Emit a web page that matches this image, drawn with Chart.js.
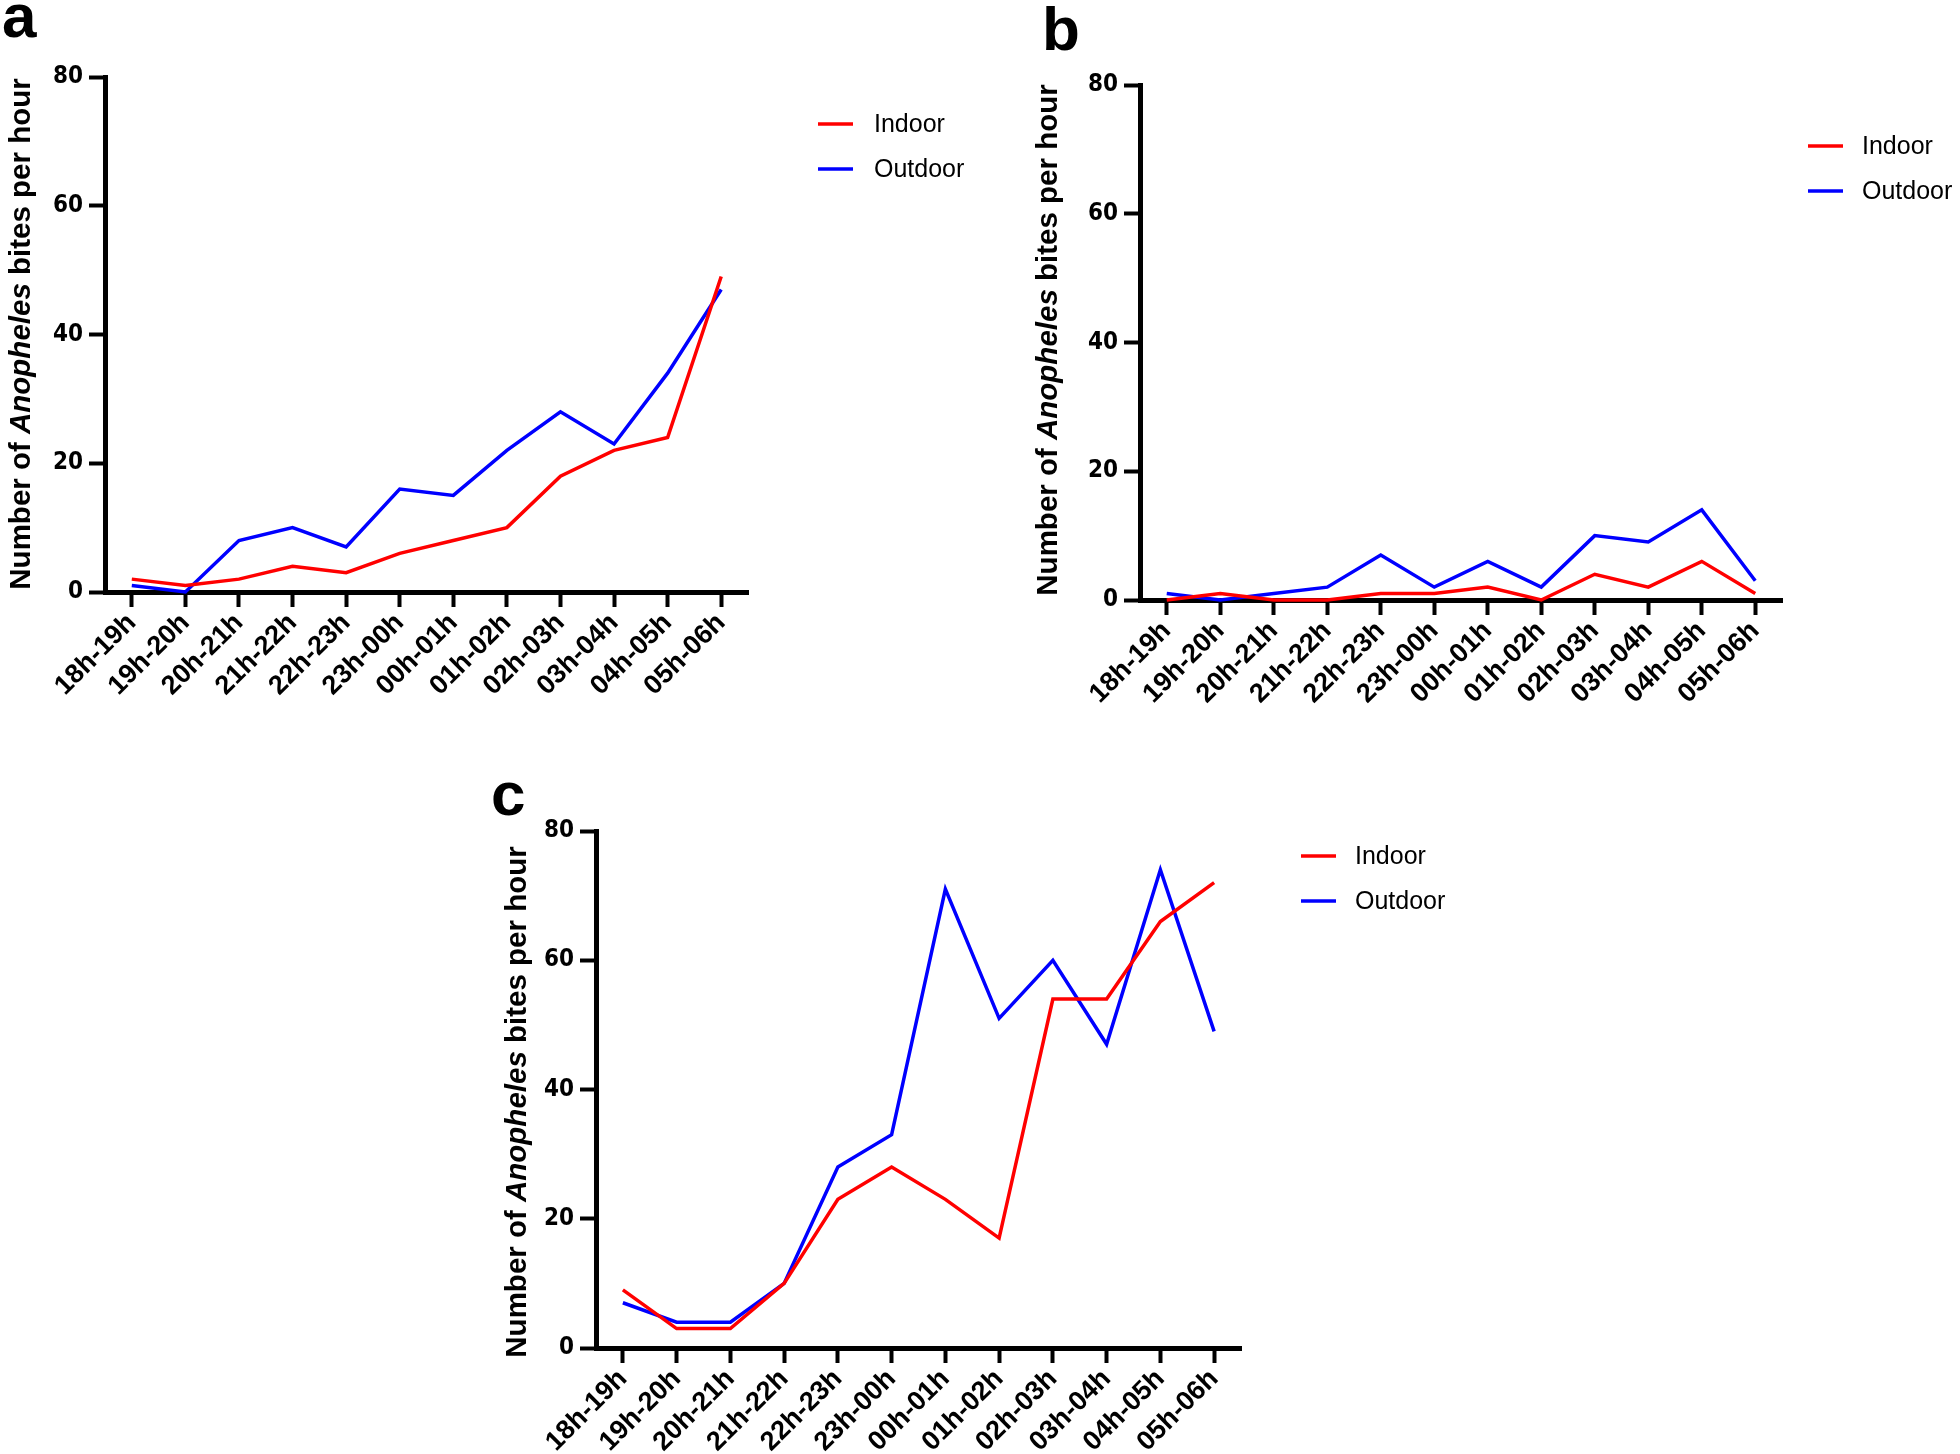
<!DOCTYPE html>
<html>
<head>
<meta charset="utf-8">
<script src="https://cdn.jsdelivr.net/npm/chart.js@4.4.0/dist/chart.umd.min.js"></script>
<style>
body { margin: 0; background: #fff; }
#page { position: relative; width: 1960px; height: 1454px; background: #fff; }
canvas { position: absolute; }
</style>
</head>
<body>
<div id="page">
<canvas id="chartA" width="980" height="720" style="left:0px;top:0px"></canvas>
<canvas id="chartB" width="980" height="720" style="left:980px;top:0px"></canvas>
<canvas id="chartC" width="1000" height="694" style="left:480px;top:760px"></canvas>
</div>
<script>
// hourly catch periods
var hours = ["18h-19h", "19h-20h", "20h-21h", "21h-22h", "22h-23h", "23h-00h",
             "00h-01h", "01h-02h", "02h-03h", "03h-04h", "04h-05h", "05h-06h"];
var yTicks = [0, 20, 40, 60, 80];
var seriesNames = ["Indoor", "Outdoor"];

// panel a
var indoorA  = [2, 1, 2, 4, 3, 6, 8, 10, 18, 22, 24, 49];
var outdoorA = [1, 0, 8, 10, 7, 16, 15, 22, 28, 23, 34, 47];
// panel b
var indoorB  = [0, 1, 0, 0, 1, 1, 2, 0, 4, 2, 6, 1];
var outdoorB = [1, 0, 1, 2, 7, 2, 6, 2, 10, 9, 14, 3];
// panel c
var indoorC  = [9, 3, 3, 10, 23, 28, 23, 17, 54, 54, 66, 72];
var outdoorC = [7, 4, 4, 10, 28, 33, 71, 51, 60, 47, 74, 49];

var seriesColors = ["#ff0000", "#0000ff"];

function makeDecor(g) {
    return {
        id: 'decor' + g.letter,
        afterDraw: function(chart) {
            var ctx = chart.ctx;
            ctx.save();
            ctx.fillStyle = '#000';

            // panel letter
            ctx.font = 'bold 62px "Liberation Sans", Arial, sans-serif';
            ctx.textAlign = 'left';
            ctx.textBaseline = 'alphabetic';
            ctx.fillText(g.letter, g.letterX, g.letterY);

            // y axis title, with italic genus name
            var parts = [["Number of ", "bold"], ["Anopheles", "italic bold"], [" bites per hour", "bold"]];
            var total = 0;
            for (var i = 0; i < parts.length; i++) {
                ctx.font = parts[i][1] + ' 29.5px "Liberation Sans", Arial, sans-serif';
                parts[i].push(ctx.measureText(parts[i][0]).width);
                total += parts[i][2];
            }
            ctx.translate(g.titleX, g.titleY);
            ctx.rotate(-Math.PI / 2);
            ctx.textBaseline = 'middle';
            var x = -total / 2;
            for (var j = 0; j < parts.length; j++) {
                ctx.font = parts[j][1] + ' 29.5px "Liberation Sans", Arial, sans-serif';
                ctx.fillText(parts[j][0], x, 0);
                x += parts[j][2];
            }
            ctx.restore();

            // legend
            ctx.save();
            ctx.font = '25px "Liberation Sans", Arial, sans-serif';
            ctx.textBaseline = 'middle';
            ctx.textAlign = 'left';
            chart.data.datasets.forEach(function(ds, k) {
                var y = g.legY + k * 45;
                ctx.strokeStyle = ds.borderColor;
                ctx.lineWidth = 3.5;
                ctx.beginPath();
                ctx.moveTo(g.legX, y);
                ctx.lineTo(g.legX + 35, y);
                ctx.stroke();
                ctx.fillStyle = '#000';
                ctx.fillText(ds.label, g.legTextX, y + 1);
            });
            ctx.restore();
        }
    };
}

function makePanel(id, indoor, outdoor, g) {
    var canvas = document.getElementById(id);
    var w = canvas.width, h = canvas.height;
    return new Chart(canvas, {
        type: 'line',
        data: {
            labels: hours,
            datasets: [
                { label: seriesNames[0], data: indoor, borderColor: seriesColors[0], borderWidth: 3.5,
                  pointRadius: 0, tension: 0, fill: false, clip: false },
                { label: seriesNames[1], data: outdoor, borderColor: seriesColors[1], borderWidth: 3.5,
                  pointRadius: 0, tension: 0, fill: false, clip: false }
            ]
        },
        options: {
            responsive: false,
            animation: false,
            devicePixelRatio: 1,
            layout: { autoPadding: false, padding: { left: 0, top: g.top, right: w - g.right, bottom: 0 } },
            plugins: { legend: { display: false }, tooltip: { enabled: false } },
            scales: {
                x: {
                    type: 'category',
                    offset: true,
                    border: { display: true, color: '#000', width: 5 },
                    grid: { display: true, drawOnChartArea: false, drawTicks: true, offset: false,
                            tickLength: 15, tickWidth: 4, tickColor: '#000' },
                    ticks: { color: '#000', minRotation: 45, maxRotation: 45, autoSkip: false, padding: 0,
                             font: { family: '"Liberation Sans", Arial, sans-serif', weight: 'bold', size: 27 } },
                    afterFit: function(scale) { scale.height = h - g.bottom; }
                },
                y: {
                    min: yTicks[0],
                    max: yTicks[yTicks.length - 1],
                    border: { display: true, color: '#000', width: 5 },
                    grid: { display: true, drawOnChartArea: false, drawTicks: true,
                            tickLength: 16, tickWidth: 4, tickColor: '#000' },
                    afterBuildTicks: function(scale) {
                        scale.ticks = yTicks.map(function(v) { return { value: v }; });
                    },
                    ticks: { color: '#000', padding: 6,
                             font: { family: '"Liberation Sans Narrow", "DejaVu Sans Condensed", sans-serif', weight: 'bold', size: 24 } },
                    afterFit: function(scale) { scale.width = g.left; }
                }
            }
        },
        plugins: [makeDecor(g)]
    });
}

makePanel('chartA', indoorA, outdoorA, {
    left: 105, right: 748, top: 77, bottom: 592,
    letter: 'a', letterX: 2, letterY: 37,
    titleX: 22, titleY: 334,
    legX: 818, legY: 124, legTextX: 874
});
makePanel('chartB', indoorB, outdoorB, {
    left: 160, right: 802, top: 85, bottom: 600,
    letter: 'b', letterX: 62, letterY: 50,
    titleX: 69, titleY: 340,
    legX: 828, legY: 146, legTextX: 882
});
makePanel('chartC', indoorC, outdoorC, {
    left: 116, right: 761, top: 71, bottom: 588,
    letter: 'c', letterX: 11, letterY: 55,
    titleX: 38, titleY: 342,
    legX: 821, legY: 96, legTextX: 875
});
</script>
</body>
</html>
